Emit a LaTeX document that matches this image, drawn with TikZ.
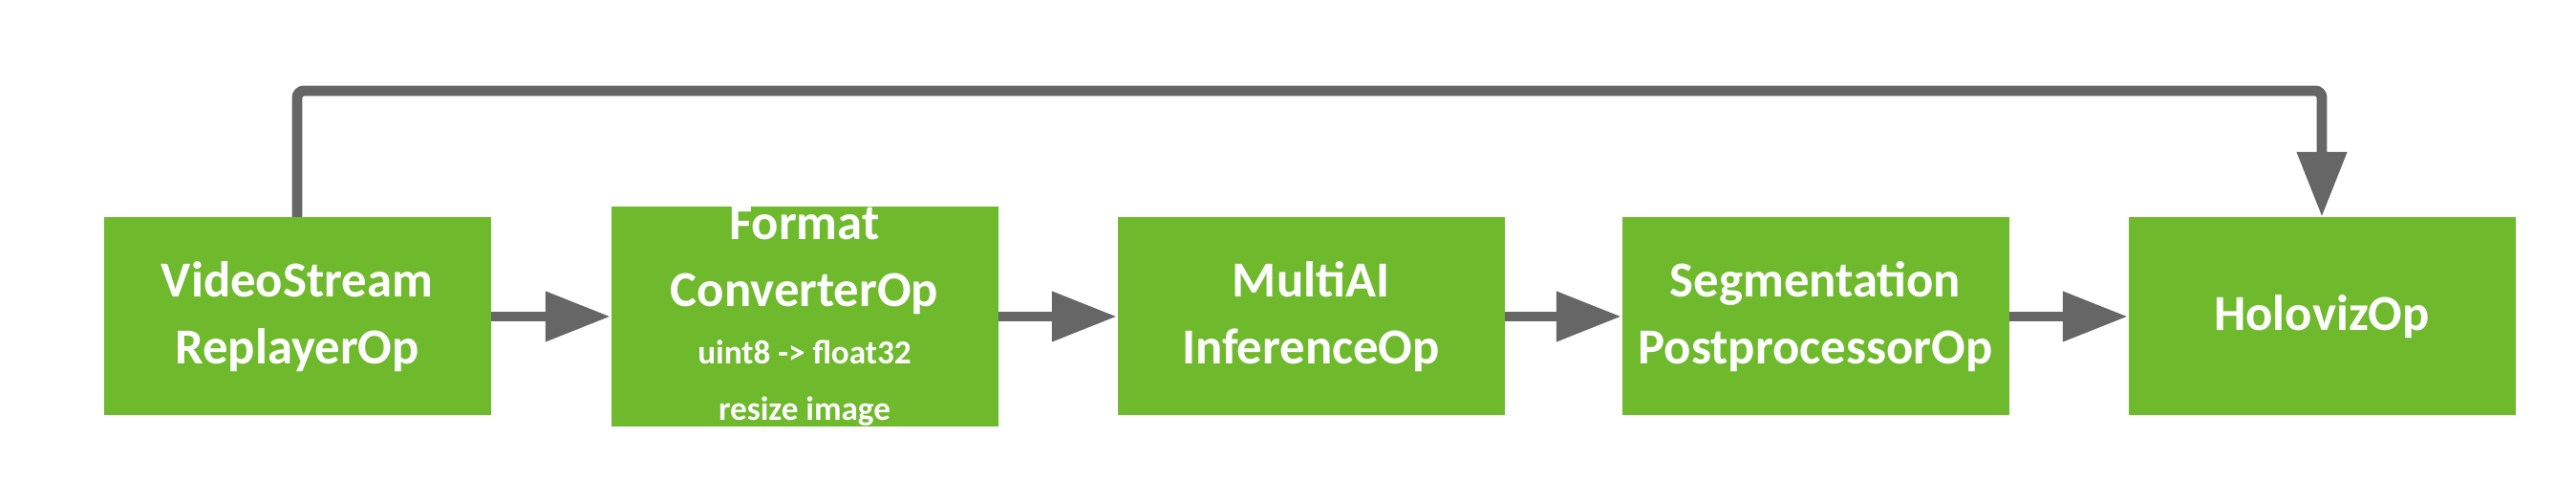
\documentclass[tikz,border=0pt]{standalone}
\usepackage{fontspec}
\setmainfont{Carlito}
\usepackage{xcolor}
\definecolor{opgreen}{RGB}{110, 185, 44}
\definecolor{flowgray}{RGB}{102, 102, 102}
\usetikzlibrary{arrows.meta, positioning}

\begin{document}
\begin{tikzpicture}[
    op/.style={rectangle, fill=opgreen, draw=none, minimum width=4.05cm, minimum height=2.07cm, inner sep=0pt, align=center, text=white, font=\fontsize{15}{20}\selectfont\bfseries},
    arrow/.style={-{Triangle[length=0.68cm, width=0.5cm]}, draw=flowgray, line width=3.1pt}
]
    \useasboundingbox (0, 0) rectangle (26.96, 5.26);

    \node[op] (replayer) at (3.11, 1.95) {VideoStream\\ReplayerOp};
    \node[op] (converter) at (8.42, 1.95) {Format\\ConverterOp\\[-3pt]{\fontsize{10}{13}\selectfont uint8 -> float32}\\[-3pt]{\fontsize{10}{13}\selectfont resize image}};
    \node[op] (inference) at (13.72, 1.95) {MultiAI\\InferenceOp};
    \node[op] (postproc) at (19.0, 1.95) {Segmentation\\PostprocessorOp};
    \node[op] (holoviz) at (24.3, 1.95) {HolovizOp};

    \draw[arrow] (replayer) -- (converter);
    \draw[arrow] (converter) -- (inference);
    \draw[arrow] (inference) -- (postproc);
    \draw[arrow] (postproc) -- (holoviz);

    \draw[arrow, rounded corners=2pt] (replayer.north) -- (3.11, 4.31) -- (24.3, 4.31) -- (holoviz.north);
\end{tikzpicture}
\end{document}
